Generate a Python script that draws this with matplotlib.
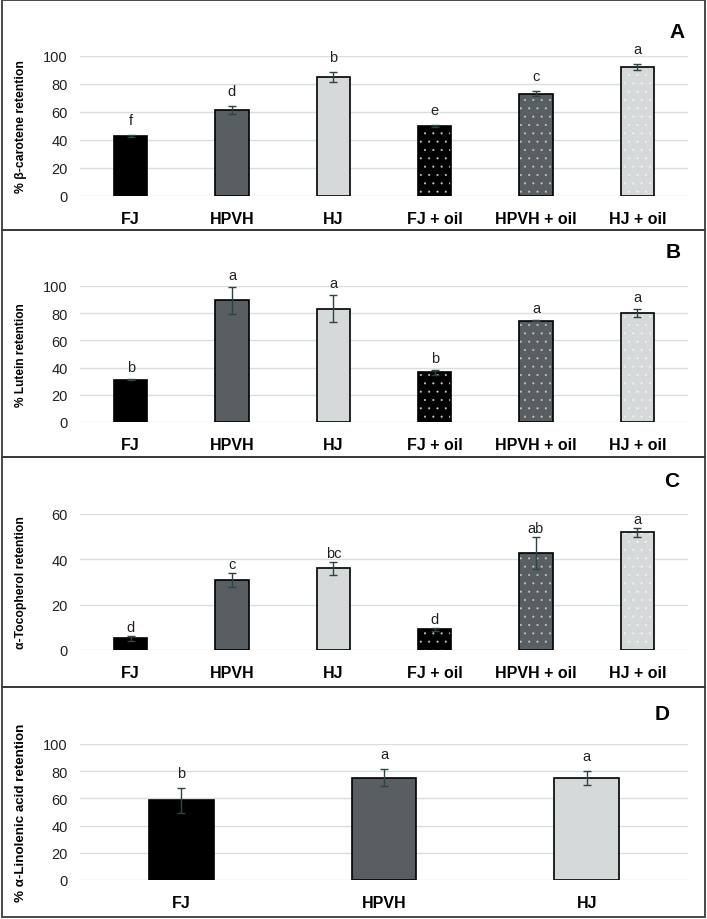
import matplotlib
matplotlib.use("Agg")
import matplotlib.pyplot as plt
from matplotlib.patches import Rectangle

plt.rcParams['font.family'] = ['Liberation Sans', 'DejaVu Sans']
plt.rcParams['hatch.linewidth'] = 0.25

# ---------------- data ----------------
categories = ["FJ", "HPVH", "HJ", "FJ + oil", "HPVH + oil", "HJ + oil"]
oil_flags = [False, False, False, True, True, True]

beta_carotene = [42.9, 61.4, 85.0, 50.0, 73.1, 92.1]
beta_err = [0.8, 2.7, 3.6, 0.5, 1.9, 2.0]
beta_letters = ["f", "d", "b", "e", "c", "a"]

lutein = [31.0, 89.4, 83.3, 36.5, 74.6, 80.3]
lutein_err = [0.4, 10.0, 10.0, 1.6, 0.7, 3.0]
lutein_letters = ["b", "a", "a", "b", "a", "a"]

tocopherol = [5.1, 30.9, 36.0, 9.1, 42.8, 51.9]
tocopherol_err = [1.0, 3.0, 3.0, 0.8, 7.1, 2.0]
tocopherol_letters = ["d", "c", "bc", "d", "ab", "a"]

linolenic_categories = ["FJ", "HPVH", "HJ"]
linolenic = [58.5, 75.2, 75.2]
linolenic_err = [9.0, 6.2, 5.1]
linolenic_letters = ["b", "a", "a"]

# ---------------- style ----------------
W, H = 707, 920
bar_colors = ["#000000", "#585e62", "#d5d9d9"]
dot_colors = ["#d0d0d0", "#c8cccc", "#f4f6f6"]
grid_color = "#d8dfdf"
err_color = "#2f4343"

fig = plt.figure(figsize=(W / 100, H / 100), dpi=100)


def px_axes(left, top, right, bottom):
    return fig.add_axes([left / W, 1 - bottom / H, (right - left) / W, (bottom - top) / H])


def panel(box, ax_px, cats, vals, errs, letters, oil, ymax, yticks, ylabel, ylsize, tag,
          tag_xy, width, letter_off):
    # panel frame
    x0, y0, x1, y1 = box
    fig.patches.append(Rectangle((x0 / W, 1 - y1 / H), (x1 - x0) / W, (y1 - y0) / H,
                                 transform=fig.transFigure, fill=False,
                                 edgecolor="#3a3a3a", linewidth=1.3, zorder=0))
    ax = px_axes(*ax_px)
    n = len(cats)
    xs = list(range(n))
    for x, v, o in zip(xs, vals, oil):
        c = bar_colors[x % 3]
        if o:
            ax.bar(x, v, width=width, color=c, edgecolor=dot_colors[x % 3], hatch="..",
                   linewidth=0, zorder=2)
            ax.bar(x, v, width=width, facecolor="none", edgecolor="black",
                   linewidth=1.2, zorder=3)
        else:
            ax.bar(x, v, width=width, color=c, edgecolor="black", linewidth=1.2, zorder=3)
    ax.errorbar(xs, vals, yerr=errs, fmt="none", ecolor=err_color, elinewidth=1.0,
                capsize=3, capthick=1.0, zorder=4)
    for x, v, e, t in zip(xs, vals, errs, letters):
        ax.annotate(t, (x, v + e), xytext=(0, letter_off * 0.72), textcoords="offset points",
                    ha="center", va="center", fontsize=10.5, color="#222222",
                    annotation_clip=False)
    ax.set_xlim(-0.5, n - 0.5)
    ax.set_ylim(0, ymax)
    ax.set_yticks(yticks)
    ax.yaxis.grid(True, color=grid_color, linewidth=1.0, zorder=0)
    ax.set_axisbelow(True)
    for s in ax.spines.values():
        s.set_visible(False)
    ax.set_xticks(xs)
    ax.set_xticklabels(cats, fontsize=11.5, fontweight="bold")
    ax.tick_params(axis="both", length=0)
    ax.tick_params(axis="x", pad=11)
    ax.tick_params(axis="y", pad=9, labelsize=10.5, labelcolor="#222222")
    ax.set_ylabel(ylabel, fontsize=ylsize, fontweight="bold", labelpad=0)
    ax.yaxis.set_label_coords(-(ax_px[0] - 27) / (ax_px[2] - ax_px[0]), 0.5)
    fig.text(tag_xy[0] / W, 1 - tag_xy[1] / H, tag, fontsize=15, fontweight="bold",
             ha="center", va="center")
    return ax


panel((2, 1, 705, 231), (80, 57, 688, 197), categories, beta_carotene, beta_err,
      beta_letters, oil_flags, 100, [0, 20, 40, 60, 80, 100],
      "% β-carotene retention", 8.8, "A", (677, 33), 0.33, 15)

panel((2, 231, 705, 458), (80, 287, 688, 423), categories, lutein, lutein_err,
      lutein_letters, oil_flags, 100, [0, 20, 40, 60, 80, 100],
      "% Lutein retention", 8.6, "B", (673, 252), 0.33, 12)

panel((2, 458, 705, 688), (80, 515, 688, 651), categories, tocopherol, tocopherol_err,
      tocopherol_letters, oil_flags, 60, [0, 20, 40, 60],
      "α-Tocopherol retention", 8.7, "C", (672, 482), 0.33, 9)

panel((2, 688, 705, 918), (80, 745, 688, 881), linolenic_categories, linolenic, linolenic_err,
      linolenic_letters, [False, False, False], 100, [0, 20, 40, 60, 80, 100],
      "% α-Linolenic acid retention", 9.6, "D", (662, 715), 0.32, 15)

fig.savefig("out.png", dpi=100, facecolor="white")
